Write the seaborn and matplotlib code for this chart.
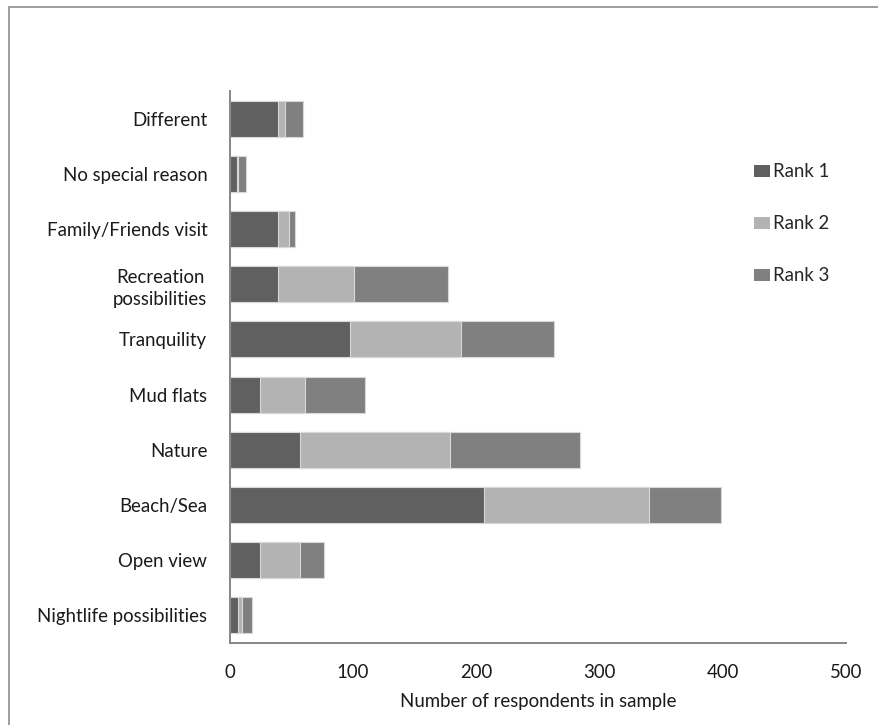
import matplotlib
matplotlib.use("Agg")
import matplotlib.pyplot as plt
from matplotlib.patches import Patch, Rectangle
import numpy as np
import pandas as pd
import seaborn as sns

# Reasons for choosing the destination, top to bottom
reasons = [
    "Different",
    "No special reason",
    "Family/Friends visit",
    "Recreation\npossibilities",
    "Tranquility",
    "Mud flats",
    "Nature",
    "Beach/Sea",
    "Open view",
    "Nightlife possibilities",
]
rank1 = [39, 6, 39, 39, 98, 25, 57, 206, 25, 7]
rank2 = [6, 1, 9, 62, 90, 36, 122, 134, 32, 3]
rank3 = [15, 6, 5, 76, 75, 49, 105, 59, 20, 8]

series_names = ["Rank 1", "Rank 2", "Rank 3"]
colors = ["#606060", "#b3b3b3", "#808080"]
x_ticks = [0, 100, 200, 300, 400, 500]

FS = 13.4

sns.set_theme(style="white")
plt.rcParams["font.family"] = ["Lato", "DejaVu Sans"]

df = pd.DataFrame({"reason": reasons, "r1": rank1, "r2": rank2, "r3": rank3})
df["c1"] = df["r1"]
df["c2"] = df["r1"] + df["r2"]
df["c3"] = df["r1"] + df["r2"] + df["r3"]

fig = plt.figure(figsize=(8.79, 7.25), dpi=100)
ax = fig.add_axes([0.2611, 0.1131, 0.9625 - 0.2611, 0.8745 - 0.1131])

# stacked bars: draw cumulative totals from the back to the front
for col, color in zip(["c3", "c2", "c1"], colors[::-1]):
    sns.barplot(data=df, y="reason", x=col, order=reasons, orient="y",
                color=color, width=0.65, edgecolor="#d8d8d8", linewidth=0.8,
                saturation=1, ax=ax)

ax.set_xlim(0, 500)
ax.set_ylim(len(reasons) - 0.5, -0.5)
ax.set_xticks(x_ticks)
ax.set_xticklabels([str(t) for t in x_ticks])
ax.set_xlabel("Number of respondents in sample", fontsize=FS, color="#1a1a1a", labelpad=9)
ax.set_ylabel("")

for side in ["top", "right"]:
    ax.spines[side].set_visible(False)
for side in ["left", "bottom"]:
    ax.spines[side].set_color("#868686")
    ax.spines[side].set_linewidth(1.4)

ax.tick_params(axis="x", length=0, pad=15, labelsize=FS, labelcolor="#1a1a1a")
ax.tick_params(axis="y", length=0, pad=16, labelsize=FS, labelcolor="#1a1a1a")
for lab in ax.get_yticklabels():
    lab.set_multialignment("center")
    lab.set_linespacing(1.35)

handles = [Patch(facecolor=c, edgecolor="none") for c in colors]
fig.legend(handles, series_names, loc="upper left", bbox_to_anchor=(0.849, 0.785),
           frameon=False, fontsize=FS, handlelength=0.9, handleheight=0.62,
           handletextpad=0.15, labelspacing=1.88, borderaxespad=0)

# outer chart border
fig.add_artist(Rectangle((9 / 879, -0.05), 1.2, (725 - 7) / 725 + 0.05,
                         transform=fig.transFigure, fill=False,
                         edgecolor="#8c8c8c", linewidth=1.2))

fig.savefig("out.png", dpi=100)
